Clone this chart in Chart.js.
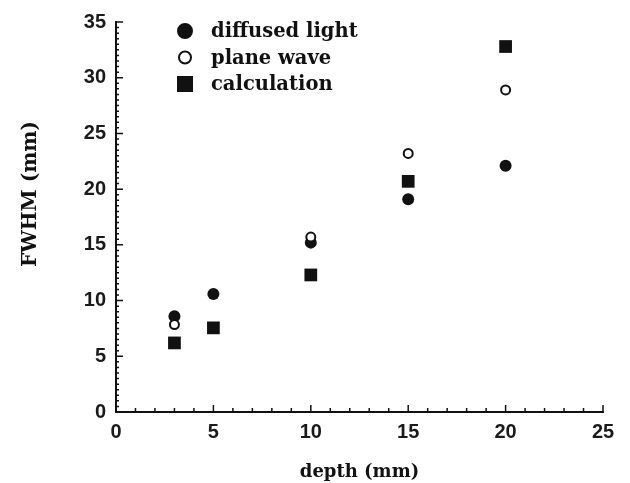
<!DOCTYPE html>
<html>
<head>
<meta charset="utf-8">
<script src="https://cdn.jsdelivr.net/npm/chart.js@4"></script>
<style>
  html, body { margin:0; padding:0; background:#fff; }
  #wrap { width:630px; height:483px; position:relative; }
</style>
</head>
<body>
<div id="wrap"><canvas id="chart"></canvas></div>
<script>
// data
const depth = [3, 5, 10, 15, 20];
const diffusedLight = [8.6, 10.6, 15.2, 19.1, 22.1];
const planeWave = [7.85, null, 15.7, 23.2, 28.9];
const calculation = [6.2, 7.55, 12.3, 20.7, 32.8];
const xTicks = [0, 5, 10, 15, 20, 25];
const yTicks = [0, 5, 10, 15, 20, 25, 30, 35];

const pts = arr => depth.map((d,i)=>({x:d, y:arr[i]})).filter(p=>p.y!==null);

const SERIF = "'DejaVu Serif', serif";
const SANS = "'Liberation Sans', Arial, sans-serif";

// inward ticks, major every 5, minor every 1 (x) / 0.5 (y)
const innerTicks = {
  id: "innerTicks",
  afterDraw(chart) {
    const {ctx, scales:{x, y}, chartArea:a} = chart;
    ctx.save();
    ctx.strokeStyle = "#111";
    ctx.lineWidth = 1.5;
    ctx.beginPath();
    for(let v=x.min; v<=x.max; v+=1) {
      const px = x.getPixelForValue(v);
      const len = v%5===0 ? 7 : 4;
      ctx.moveTo(px, a.bottom); ctx.lineTo(px, a.bottom-len);
    }
    for(let v=y.min; v<=y.max+0.01; v+=0.5) {
      const py = y.getPixelForValue(v);
      const len = v%5===0 ? 7 : 3;
      ctx.moveTo(a.left, py); ctx.lineTo(a.left+len, py);
    }
    ctx.stroke();
    ctx.restore();
  }
};

// y title sits higher than the plot centre in the scan
const yTitle = {
  id: "yTitle",
  afterDraw(chart) {
    const ctx = chart.ctx;
    ctx.save();
    ctx.translate(31, 194);
    ctx.rotate(-Math.PI/2);
    ctx.font = "bold 20px " + SERIF;
    ctx.fillStyle = "#111";
    ctx.textAlign = "center";
    ctx.textBaseline = "middle";
    ctx.fillText("FWHM (mm)", 0, 0);
    ctx.restore();
  }
};

// legend drawn inside the plot, top left
const innerLegend = {
  id: "innerLegend",
  afterDraw(chart) {
    const ctx = chart.ctx;
    const mx = 185, tx = 211, y0 = 31, gap = 26.5;
    ctx.save();
    ctx.font = "bold 19.5px " + SERIF;
    ctx.textBaseline = "middle";
    chart.data.datasets.forEach((ds,i) => {
      const cy = y0 + i*gap;
      ctx.beginPath();
      if(ds.pointStyle==="rect") {
        ctx.fillStyle = "#111";
        ctx.fillRect(mx-8, cy-8, 16, 16);
      } else {
        ctx.arc(mx, cy, ds.legendRadius, 0, Math.PI*2);
        ctx.fillStyle = ds.pointBackgroundColor;
        ctx.fill();
        ctx.lineWidth = 2;
        ctx.strokeStyle = "#111";
        ctx.stroke();
      }
      ctx.fillStyle = "#111";
      ctx.fillText(ds.label, tx, cy+1);
    });
    ctx.restore();
  }
};

new Chart(document.getElementById("chart"), {
  type: "scatter",
  data: {
    datasets: [
      { label:"diffused light", data:pts(diffusedLight), pointStyle:"circle", pointRadius:6,
        pointBackgroundColor:"#111", pointBorderColor:"#111", pointBorderWidth:0, order:1, legendRadius:7 },
      { label:"plane wave", data:pts(planeWave), pointStyle:"circle", pointRadius:4.5,
        pointBackgroundColor:"#fff", pointBorderColor:"#111", pointBorderWidth:2, order:0, legendRadius:6 },
      { label:"calculation", data:pts(calculation), pointStyle:"rect", pointRadius:9,
        pointBackgroundColor:"#111", pointBorderColor:"#111", pointBorderWidth:0, order:2 },
    ]
  },
  options: {
    responsive: true,
    maintainAspectRatio: false,
    animation: false,
    layout: { padding: { left:0, right:27, top:22, bottom:0 } },
    plugins: { legend:{ display:false }, tooltip:{ enabled:false } },
    scales: {
      x: {
        type:"linear", min:0, max:25,
        afterBuildTicks: s => { s.ticks = xTicks.map(v=>({value:v})); },
        afterFit: s => { s.height = 71; },
        border: { display:true, color:"#111", width:2 },
        grid: { drawOnChartArea:false, drawTicks:false },
        ticks: { padding:8, color:"#1a1a1a", font:{ family:SANS, size:20, weight:"bold" }, maxRotation:0 },
        title: { display:true, text:"depth (mm)", color:"#111", padding:{top:0,bottom:0},
                 font:{ family:SERIF, size:18, weight:"bold" } }
      },
      y: {
        type:"linear", min:0, max:35,
        afterBuildTicks: s => { s.ticks = yTicks.map(v=>({value:v})); },
        afterFit: s => { s.width = 116; },
        border: { display:true, color:"#111", width:2 },
        grid: { drawOnChartArea:false, drawTicks:false },
        ticks: { padding:10, color:"#1a1a1a", font:{ family:SANS, size:20, weight:"bold" } },
        title: { display:false }
      }
    }
  },
  plugins: [innerTicks, innerLegend, yTitle]
});
</script>
</body>
</html>
